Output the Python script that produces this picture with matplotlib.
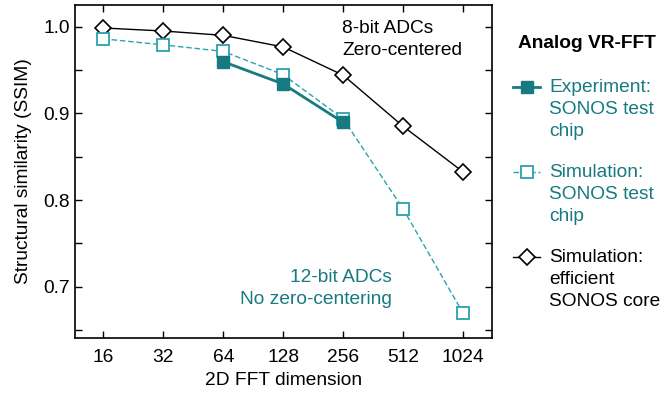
import matplotlib
matplotlib.use("Agg")
import matplotlib.pyplot as plt
from matplotlib.ticker import MultipleLocator, FormatStrFormatter
from matplotlib.lines import Line2D
import numpy as np

plt.rcParams['font.family'] = ['Liberation Sans', 'DejaVu Sans']

dims = ["16", "32", "64", "128", "256", "512", "1024"]
exp_chip = [None, None, 0.9596, 0.9339, 0.8896, None, None]
sim_chip = [0.986, 0.979, 0.9715, 0.9446, 0.8937, 0.7897, 0.6693]
sim_core = [0.9985, 0.995, 0.990, 0.9766, 0.944, 0.885, 0.8324]

legend_title = 'Analog VR-FFT'
legend_labels = ['Experiment:\nSONOS test\nchip',
                 'Simulation:\nSONOS test\nchip',
                 'Simulation:\nefficient\nSONOS core']

dark = '#167a80'
light = '#2aa3ad'
FS = 13.8

W, H = 660, 394
fig = plt.figure(figsize=(W/100, H/100), dpi=100)
ax = fig.add_axes([74.5/W, 1-338/H, (492-74.5)/W, (338-5)/H])

x = np.arange(len(dims))
exp_x = [i for i, v in enumerate(exp_chip) if v is not None]
exp_y = [v for v in exp_chip if v is not None]

core_style = dict(color='black', lw=1.0, marker='D', ms=8, mfc='white', mec='black', mew=1.2)
sim_style = dict(color=light, lw=1.0, ls=(0, (4, 2)), marker='s', ms=8, mfc='white', mec=light, mew=1.3)
exp_style = dict(color=dark, lw=2.0, marker='s', ms=9, mfc=dark, mec=dark)

ax.plot(x, sim_core, zorder=3, **core_style)
ax.plot(x, sim_chip, zorder=4, **sim_style)
ax.plot(exp_x, exp_y, zorder=5, **exp_style)

ax.set_xlim(-0.48, 6.48)
ax.set_ylim(0.641, 1.025)
ax.set_xticks(x)
ax.set_xticklabels(dims)
ax.yaxis.set_major_locator(MultipleLocator(0.1))
ax.yaxis.set_minor_locator(MultipleLocator(0.05))
ax.yaxis.set_major_formatter(FormatStrFormatter('%.1f'))
ax.tick_params(axis='both', which='both', direction='in', top=True, right=True,
               labelsize=FS, length=5, width=1)
ax.tick_params(axis='x', pad=8)
for s in ax.spines.values():
    s.set_linewidth(1.2)

ax.set_xlabel('2D FFT dimension', fontsize=FS, labelpad=4)
ax.set_ylabel('Structural similarity (SSIM)', fontsize=FS)
ax.yaxis.set_label_coords(-0.102, 0.5)

ax.text(3.98, 0.9856, '8-bit ADCs\nZero-centered', ha='left', va='center',
        fontsize=FS, color='black', linespacing=1.4)
ax.text(4.81, 0.6985, '12-bit ADCs\nNo zero-centering', ha='right', va='center',
        fontsize=FS, color=dark, linespacing=1.4)

# manual legend (figure pixel coordinates)
def fx(px):
    return px / W
def fy(py):
    return 1 - py / H

fig.text(fx(518), fy(44), legend_title, ha='left', va='center',
         fontsize=FS, fontweight='bold', color='black')
entry_y = [86.7, 171.7, 257]
styles = [exp_style, sim_style, core_style]
text_colors = [dark, dark, 'black']
for yy, lab, st, tc in zip(entry_y, legend_labels, styles, text_colors):
    ln = Line2D([fx(513), fx(540)], [fy(yy), fy(yy)], transform=fig.transFigure, **st,
                markevery=[])
    fig.add_artist(ln)
    mk = Line2D([fx(526.5)], [fy(yy)], transform=fig.transFigure,
                **{k: v for k, v in st.items() if k not in ('ls',)})
    fig.add_artist(mk)
    fig.text(fx(549), fy(yy - 7.5), lab, ha='left', va='top', fontsize=FS,
             color=tc, linespacing=1.36)

fig.savefig('out.png', dpi=100)
